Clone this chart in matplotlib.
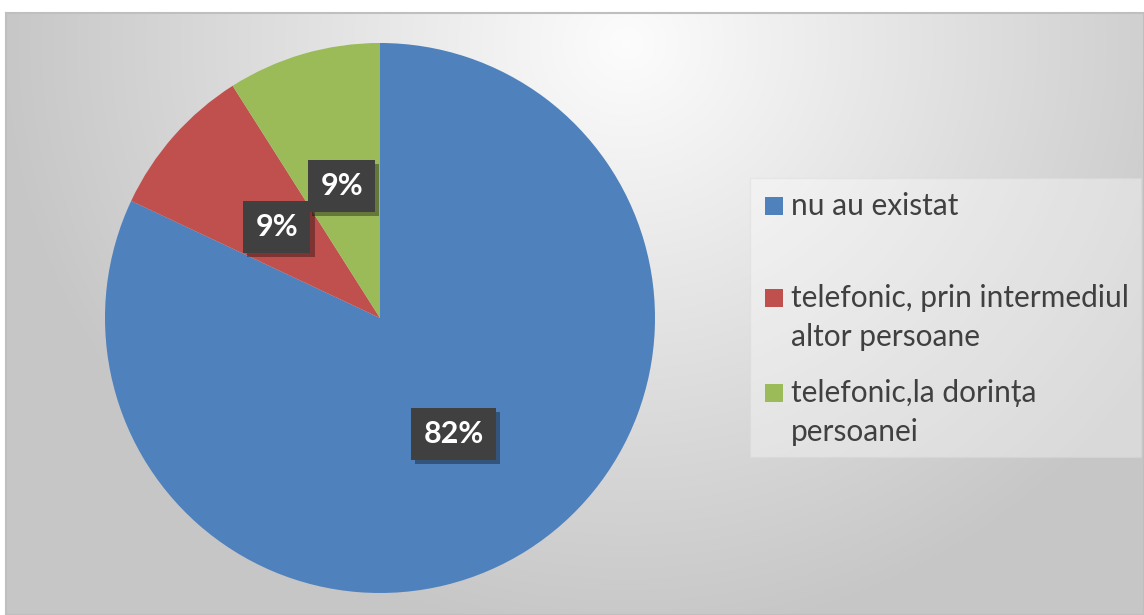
import numpy as np
import matplotlib.pyplot as plt
import matplotlib.patheffects as pe
from matplotlib.patches import Rectangle

# --- Data --- #
categories = ["nu au existat",
              "telefonic, prin intermediul\naltor persoane",
              "telefonic,la dorința\npersoanei"]
values = [82, 9, 9]
colors = ["#4f81bd", "#c0504d", "#9bbb59"]

W, H = 1144, 615
plt.rcParams['font.family'] = ['Lato', 'DejaVu Sans']

fig = plt.figure(figsize=(W / 100, H / 100), dpi=100)
fig.patch.set_facecolor("white")

# --- Background panel with soft gradient --- #
bg = fig.add_axes([6 / W, 0, (W - 6) / W, 602 / H])
yy, xx = np.mgrid[0:602, 0:1138]
d = np.sqrt(((xx - 620) / 650.0) ** 2 + ((yy - 30) / 620.0) ** 2)
shade = np.clip(0.99 - 0.22 * d, 0.78, 1.0)
bg.imshow(np.dstack([shade] * 3), aspect="auto", extent=[0, 1138, 602, 0])
bg.set_xlim(0, 1138)
bg.set_ylim(602, 0)
bg.set_xticks([])
bg.set_yticks([])
for s in bg.spines.values():
    s.set_color("#bfbfbf")
    s.set_linewidth(1.5)

# --- Pie --- #
ax = fig.add_axes([105 / W, 22 / H, 550 / W, 550 / H])
wedges, texts, autotexts = ax.pie(
    values, colors=colors, startangle=90, counterclock=False, radius=1,
    autopct=lambda p: f"{p:.0f}%", pctdistance=0.5,
    wedgeprops=dict(linewidth=0),
    textprops=dict(color="white", fontsize=22, fontweight="bold"))
ax.set_xlim(-1, 1)
ax.set_ylim(-1, 1)
ax.set_aspect("equal")
ax.axis("off")

for t in autotexts:
    t.set_bbox(dict(boxstyle="square,pad=0.4", fc="#404040", ec="none"))
    t.get_bbox_patch().set_path_effects(
        [pe.SimplePatchShadow(offset=(3, -3), shadow_rgbFace="black", alpha=0.35), pe.Normal()])

# --- Legend (manual, Excel-like spacing) --- #
lg = fig.add_axes([0, 0, 1, 1])
lg.set_xlim(0, W)
lg.set_ylim(H, 0)
lg.axis("off")
lg.add_patch(Rectangle((750, 178), 391, 279, fc="white", ec="#d8d8d8", alpha=0.35, lw=1))
entry_y = [206, 298, 393]
for lab, col, y in zip(categories, colors, entry_y):
    lg.add_patch(Rectangle((765, y - 9), 18, 18, fc=col, ec="none"))
    for i, line in enumerate(lab.split("\n")):
        lg.text(791, y + i * 39, line, fontsize=21.5, color="#404040",
                va="center", ha="left")

fig.savefig("out.png", dpi=100)
